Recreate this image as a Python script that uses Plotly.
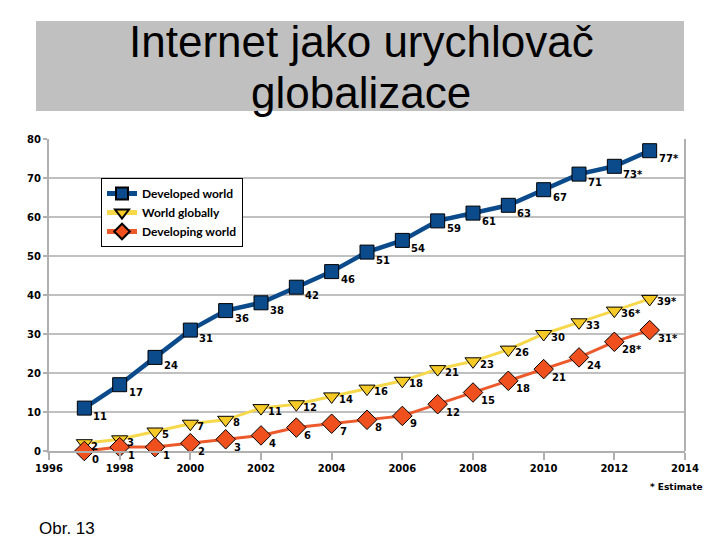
import plotly.graph_objects as go

years = [1997, 1998, 1999, 2000, 2001, 2002, 2003, 2004, 2005, 2006, 2007, 2008, 2009, 2010, 2011, 2012, 2013]
developed = [11, 17, 24, 31, 36, 38, 42, 46, 51, 54, 59, 61, 63, 67, 71, 73, 77]
world = [2, 3, 5, 7, 8, 11, 12, 14, 16, 18, 21, 23, 26, 30, 33, 36, 39]
developing = [0, 1, 1, 2, 3, 4, 6, 7, 8, 9, 12, 15, 18, 21, 24, 28, 31]
estimated = [False] * 15 + [True, True]

def labels(vals):
    return [f"{v}*" if e else f"{v}" for v, e in zip(vals, estimated)]

# page is offset by the default 8px body margin
OFF = 8
W, H = 720 - OFF, 540 - OFF
L, R, T, B = 49, 685, 139, 451  # page pixel coordinates of the plot area

def px(x):
    return (x - L) / (R - L)

def py(y):
    return (B - y) / (B - T)

lab_font = dict(family="DejaVu Sans", size=10, color="black", weight="bold")
tick_font = dict(family="DejaVu Sans", size=10, color="black", weight="bold")

# name, values, line colour, marker colour, symbol, marker size, line width, label dx, label dy
series = [
    ("Developed world", developed, "#0b4a8b", "#0b4a8b", "square", 14, 4.5, 8, -8),
    ("World globally", world, "#f6d84a", "#f5c926", "triangle-down", 14, 3, 6, -3),
    ("Developing world", developing, "#ec5a2c", "#f0501e", "diamond", 15, 3, 7, -8),
]

fig = go.Figure()
for name, vals, lc, mc, sym, ms, lw, dx, dy in series:
    fig.add_trace(go.Scatter(
        x=years, y=vals, name=name, mode="lines+markers",
        line=dict(color=lc, width=lw),
        marker=dict(symbol=sym, size=ms, color=mc, line=dict(color="black", width=1)),
        cliponaxis=False))
    for xv, yv, t in zip(years, vals, labels(vals)):
        fig.add_annotation(x=xv, y=yv, text=t, showarrow=False, xanchor="left", yanchor="middle",
                           xshift=dx, yshift=dy, font=lab_font, borderpad=0)

fig.update_layout(
    width=W, height=H,
    margin=dict(l=L - OFF, r=720 - R, t=T - OFF, b=540 - B, pad=0),
    paper_bgcolor="white", plot_bgcolor="white",
    showlegend=True,
    legend=dict(x=px(101), y=py(178), xanchor="left", yanchor="top",
                bordercolor="black", borderwidth=1, bgcolor="white",
                font=dict(family="Lato", size=12, color="black", weight="bold"),
                itemwidth=30, itemsizing="constant", tracegroupgap=0),
    xaxis=dict(range=[1996, 2014], dtick=2, tick0=1996, showgrid=False,
               showline=True, linecolor="#b0b0b0", linewidth=2, mirror=False,
               ticks="outside", ticklen=7, tickcolor="#b0b0b0", tickwidth=2,
               tickfont=tick_font, zeroline=False),
    yaxis=dict(range=[0, 80], dtick=10, showgrid=True, gridcolor="#c0c0c0", gridwidth=2,
               showline=True, linecolor="#b0b0b0", linewidth=2,
               ticks="outside", ticklen=4, tickcolor="#b0b0b0", tickwidth=2,
               tickfont=tick_font, zeroline=False),
)

# right border of plot frame
fig.add_shape(type="line", xref="paper", yref="paper", x0=1, x1=1, y0=0, y1=1,
              line=dict(color="#b0b0b0", width=2))

# title banner
fig.add_shape(type="rect", xref="paper", yref="paper",
              x0=px(36), x1=px(684), y0=py(111), y1=py(21),
              fillcolor="#c0c0c0", line=dict(width=0), layer="below")
title_font = dict(family="Liberation Sans Narrow, Liberation Sans, Arial", size=44, color="black")
fig.add_annotation(text="Internet jako urychlovač", xref="paper", yref="paper",
                   x=px(361), y=py(41), showarrow=False, xanchor="center", yanchor="middle",
                   font=title_font)
fig.add_annotation(text="globalizace", xref="paper", yref="paper",
                   x=px(361), y=py(92), showarrow=False, xanchor="center", yanchor="middle",
                   font=title_font)

fig.add_annotation(text="* Estimate", xref="paper", yref="paper",
                   x=px(705), y=py(487), showarrow=False, xanchor="right", yanchor="middle",
                   font=dict(family="DejaVu Sans", size=9, color="black", weight="bold"))
fig.add_annotation(text="Obr. 13", xref="paper", yref="paper",
                   x=px(37), y=py(528), showarrow=False, xanchor="left", yanchor="middle",
                   font=dict(family="Liberation Sans, Arial", size=17, color="black"))

fig.write_html("out.html")
